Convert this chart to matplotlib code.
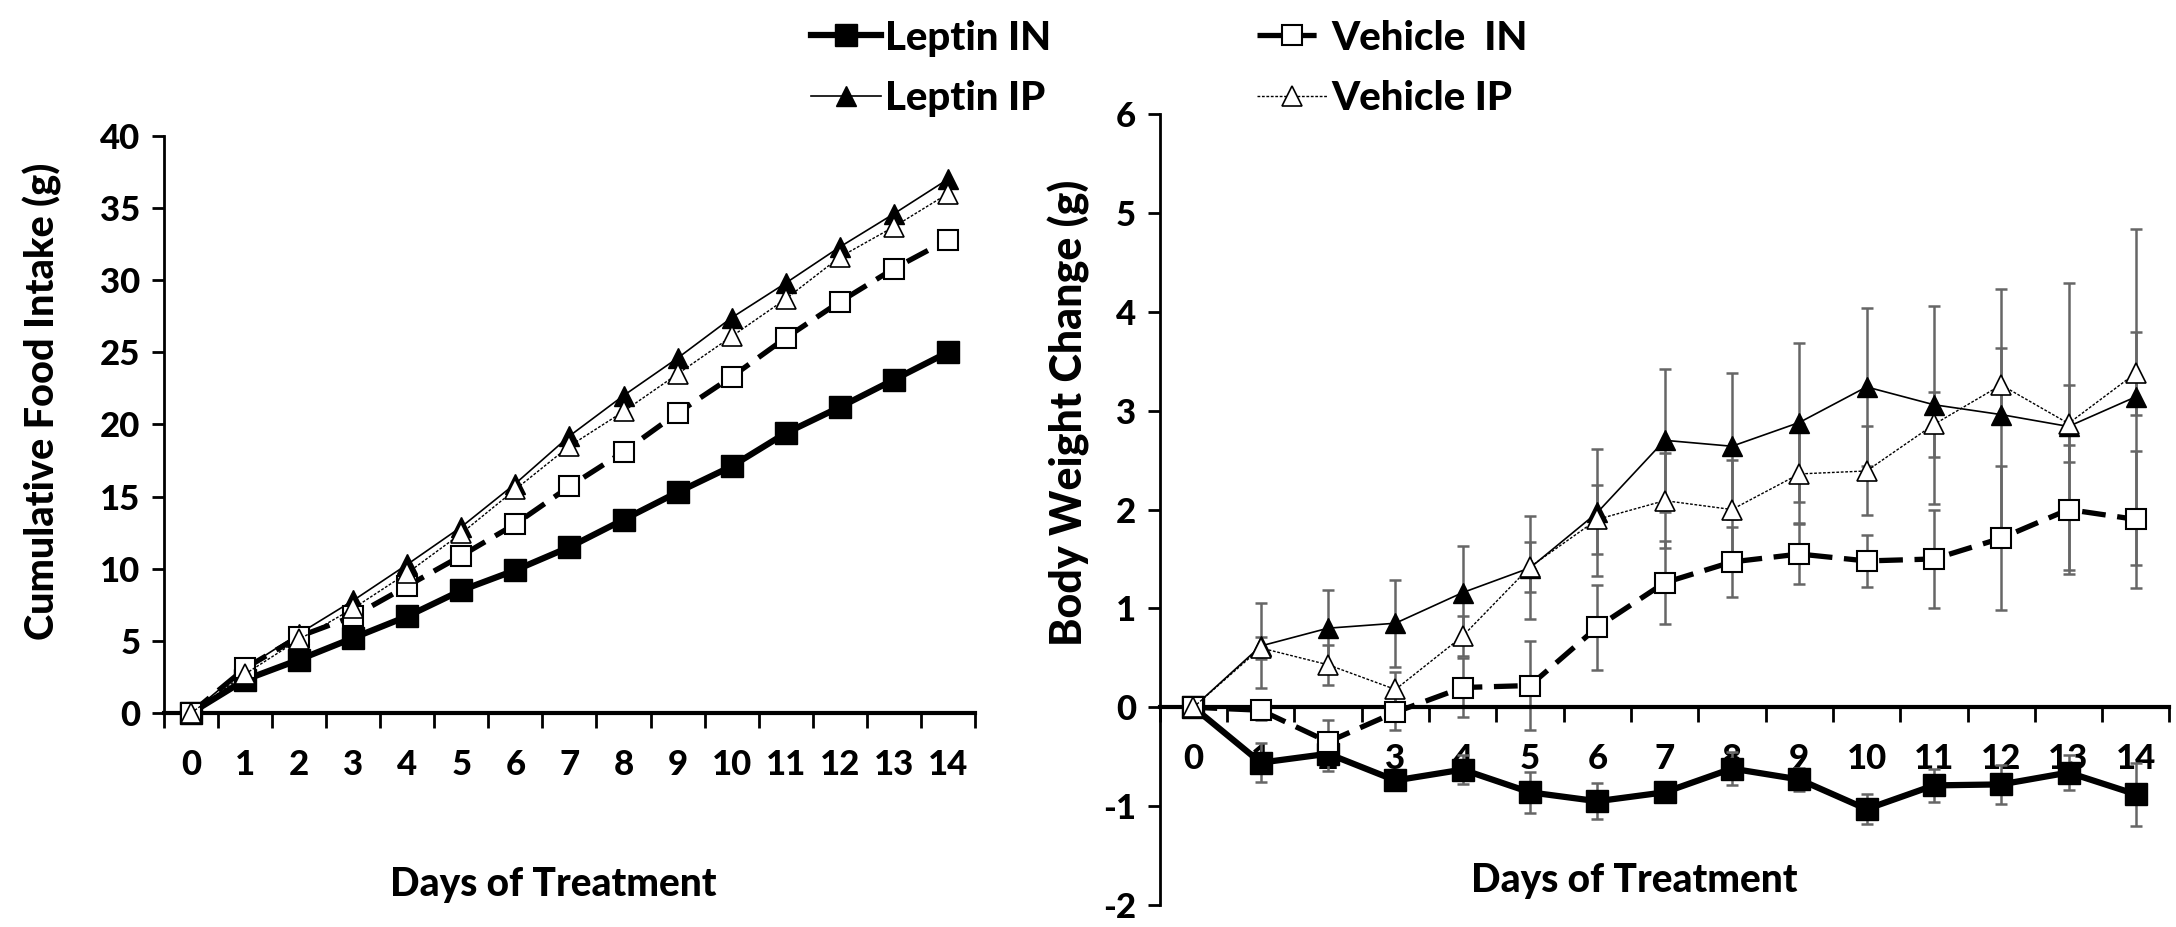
import matplotlib
matplotlib.use("Agg")
import matplotlib.pyplot as plt
import numpy as np

plt.rcParams['font.family'] = ['Lato', 'DejaVu Sans']
plt.rcParams['font.weight'] = 'black'
plt.rcParams['axes.labelweight'] = 'black'
plt.rcParams['axes.unicode_minus'] = False

days = list(range(15))
day_labels = [str(d) for d in days]

# cumulative food intake (g)
food_leptin_in = [0, 2.3, 3.7, 5.2, 6.7, 8.5, 9.9, 11.5, 13.4, 15.3, 17.1, 19.4, 21.2, 23.1, 25.0]
food_leptin_ip = [0, 3.1, 5.5, 7.8, 10.3, 12.9, 15.9, 19.2, 22.0, 24.6, 27.4, 29.8, 32.3, 34.6, 37.0]
food_vehicle_in = [0, 3.1, 5.3, 6.7, 8.8, 10.9, 13.1, 15.7, 18.1, 20.8, 23.3, 26.0, 28.5, 30.8, 32.8]
food_vehicle_ip = [0, 2.7, 5.1, 7.25, 9.7, 12.45, 15.5, 18.5, 20.9, 23.5, 26.1, 28.7, 31.6, 33.7, 36.0]

# body weight change (g) with error
bw_leptin_in = [0, -0.56, -0.47, -0.74, -0.63, -0.86, -0.95, -0.86, -0.62, -0.73, -1.03, -0.79, -0.78, -0.66, -0.88]
bw_leptin_in_err = [0, 0.2, 0.17, 0.1, 0.15, 0.21, 0.18, 0.06, 0.17, 0.12, 0.15, 0.17, 0.2, 0.18, 0.32]
bw_vehicle_in = [0, -0.03, -0.35, -0.05, 0.2, 0.22, 0.81, 1.26, 1.47, 1.55, 1.48, 1.5, 1.71, 2.0, 1.9]
bw_vehicle_in_err = [0, 0.1, 0.22, 0.18, 0.3, 0.45, 0.43, 0.42, 0.35, 0.3, 0.26, 0.5, 0.73, 0.65, 0.69]
bw_leptin_ip = [0, 0.62, 0.8, 0.85, 1.16, 1.41, 1.97, 2.7, 2.64, 2.88, 3.24, 3.06, 2.96, 2.84, 3.14]
bw_leptin_ip_err = [0, 0.43, 0.39, 0.44, 0.47, 0.52, 0.64, 0.72, 0.74, 0.8, 0.8, 1.0, 1.27, 1.45, 1.7]
bw_vehicle_ip = [0, 0.6, 0.43, 0.18, 0.72, 1.42, 1.9, 2.09, 2.0, 2.36, 2.39, 2.86, 3.26, 2.87, 3.38]
bw_vehicle_ip_err = [0, 0.11, 0.2, 0.18, 0.2, 0.25, 0.35, 0.48, 0.5, 0.5, 0.45, 0.33, 0.37, 0.39, 0.42]

styles = {
    "Leptin IN": dict(color="black", lw=4.5, ls="-", marker="s", ms=16, mfc="black", mec="black"),
    "Leptin IP": dict(color="black", lw=1.2, ls="-", marker="^", ms=14, mfc="black", mec="black"),
    "Vehicle  IN": dict(color="black", lw=3.8, ls=(0, (4.5, 2.2)), marker="s", ms=14, mfc="white", mec="black", mew=1.5),
    "Vehicle IP": dict(color="black", lw=1.0, ls=(0, (2, 1.2)), marker="^", ms=14, mfc="white", mec="black", mew=1.2),
}
fs = 25

fig = plt.figure(figsize=(21.76, 9.27), dpi=100)
ax1 = fig.add_axes([0.0754, 0.2309, 0.3726, 0.6224])
ax2 = fig.add_axes([0.533, 0.0237, 0.464, 0.8533])

def style_axis(ax):
    for s in ["top", "right"]:
        ax.spines[s].set_visible(False)
    ax.spines["left"].set_linewidth(2)
    ax.spines["bottom"].set_linewidth(3)
    ax.set_xlim(-0.5, 14.5)
    ax.set_xticks(days)
    ax.set_xticklabels(day_labels)
    ax.set_xticks(np.arange(-0.5, 15, 1), minor=True)
    ax.tick_params(axis="x", which="major", length=0, labelsize=fs, pad=26)
    ax.tick_params(axis="x", which="minor", length=11, width=2, direction="out")
    ax.tick_params(axis="y", which="major", length=9, width=2, direction="out", labelsize=fs, pad=8)

# left panel
food = [food_leptin_in, food_leptin_ip, food_vehicle_in, food_vehicle_ip]
handles = []
for name, vals in zip(styles.keys(), food):
    h, = ax1.plot(days, vals, label=name, clip_on=False, zorder=3, **styles[name])
    handles.append(h)
ax1.set_ylim(0, 40)
ax1.set_yticks(range(0, 41, 5))
style_axis(ax1)
ax1.set_ylabel("Cumulative Food Intake (g)", fontsize=28.5)
ax1.yaxis.set_label_coords(-0.126, 0.54)
ax1.set_xlabel("Days of Treatment", fontsize=28)
ax1.xaxis.set_label_coords(0.48, -0.265)

# right panel
bw = [(bw_leptin_in, bw_leptin_in_err), (bw_leptin_ip, bw_leptin_ip_err),
      (bw_vehicle_in, bw_vehicle_in_err), (bw_vehicle_ip, bw_vehicle_ip_err)]
for name, (vals, err) in zip(styles.keys(), bw):
    ax2.errorbar(days, vals, yerr=err, fmt="none", ecolor="#666666", elinewidth=1.8,
                 capsize=4, capthick=1.8, zorder=2)
    ax2.plot(days, vals, clip_on=False, zorder=3, **styles[name])
ax2.set_ylim(-2, 6)
ax2.set_yticks(range(-2, 7))
style_axis(ax2)
ax2.spines["bottom"].set_position(("data", 0))
ax2.set_ylabel("Body Weight Change (g)", fontsize=31)
ax2.yaxis.set_label_coords(-0.069, 0.622)
ax2.set_xlabel("Days of Treatment", fontsize=28)
ax2.xaxis.set_label_coords(0.47, 0.055)

fig.legend(handles, [h.get_label() for h in handles], ncol=2, loc="upper left",
           bbox_to_anchor=(0.356, 1.018), frameon=False, fontsize=29,
           handlelength=1.75, handletextpad=0.1, columnspacing=5.1, labelspacing=0.58)

fig.savefig("out.png", dpi=100)
